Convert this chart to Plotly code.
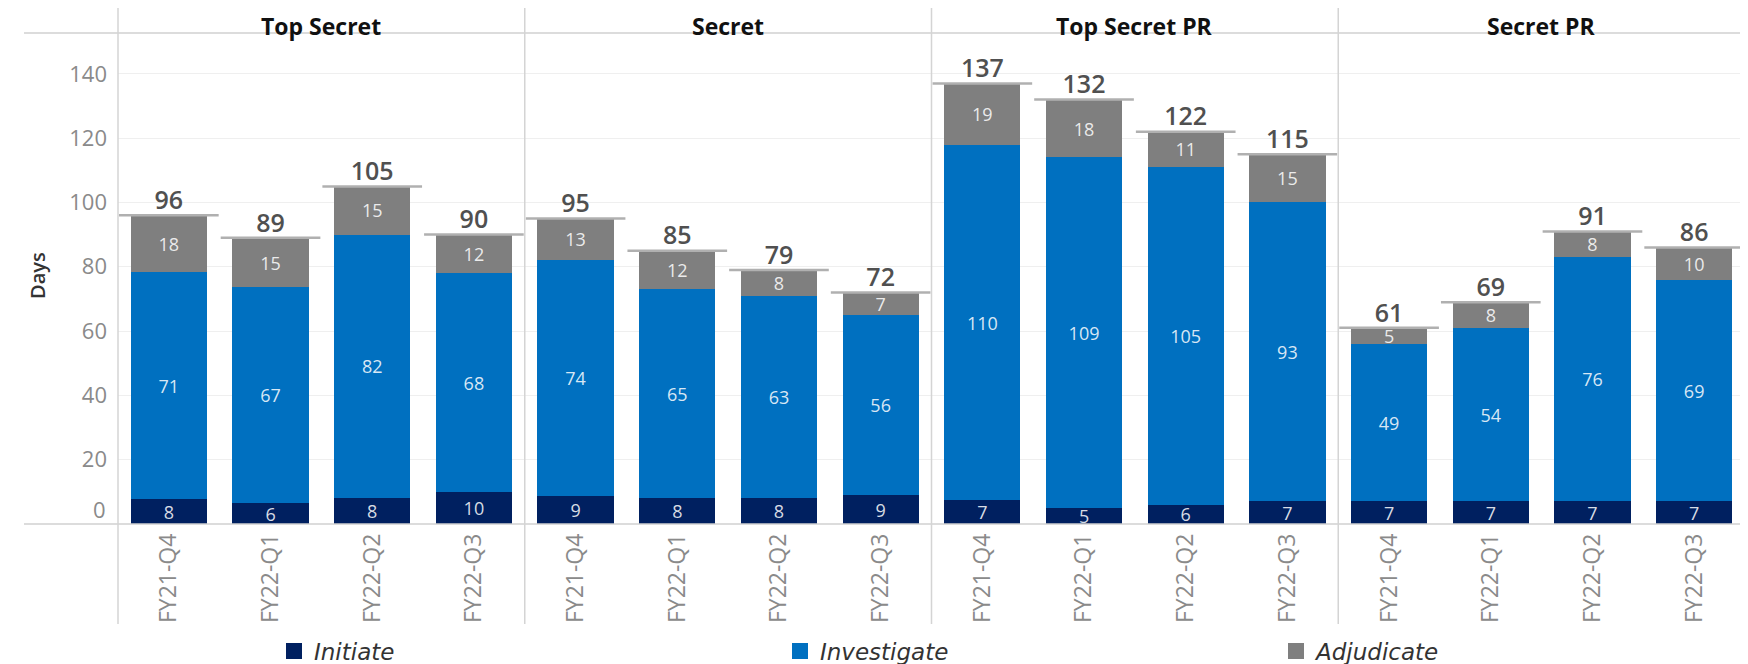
import plotly.graph_objects as go

panels = ['Top Secret', 'Secret', 'Top Secret PR', 'Secret PR']
quarters = ['FY21-Q4', 'FY22-Q1', 'FY22-Q2', 'FY22-Q3']
y_ticks = [0, 20, 40, 60, 80, 100, 120, 140]

initiate = [
    [7.7, 6.4, 8, 10],
    [8.6, 8, 8, 9],
    [7.4, 5, 6, 7],
    [7, 7, 7, 7],
]
investigate = [
    [70.6, 67.2, 82, 68],
    [73.6, 65, 63, 56],
    [110.4, 109, 105, 93],
    [49, 54, 76, 69],
]
adjudicate = [
    [17.6, 15.4, 15, 12],
    [12.6, 12, 8, 7],
    [19.4, 18, 11, 15],
    [5, 8, 8, 10],
]
totals = [
    [96, 89, 105, 90],
    [95, 85, 79, 72],
    [137, 132, 122, 115],
    [61, 69, 91, 86],
]

colors = {'Initiate': '#002060', 'Investigate': '#0070C0', 'Adjudicate': '#7F7F7F'}
FONT = 'Open Sans'

# page body has an 8px margin, so the figure is drawn 8px in from the window corner
OFF = 8
W, H = 1748 - OFF, 664 - OFF
L, T = 118 - OFF, 33 - OFF
B = H - (524 - OFF)
R = W - (1745 - OFF)
pw = W - L - R
ph = H - T - B
n = len(panels)


def px_x(v):
    """window x pixel -> paper x"""
    return (v - OFF - L) / pw


def px_y(v):
    """window y pixel -> paper y"""
    return (H - B - (v - OFF)) / ph


legend_px = [274, 780, 1276]
legend_names = ['legend', 'legend2', 'legend3']
series = [('Initiate', initiate), ('Investigate', investigate), ('Adjudicate', adjudicate)]

fig = go.Figure()
x = list(range(len(quarters)))

for p in range(n):
    xa = 'x' if p == 0 else f'x{p + 1}'
    for name, vals in series:
        fig.add_trace(go.Bar(
            x=x, y=vals[p], name=name, xaxis=xa, yaxis='y',
            marker=dict(color=colors[name], line=dict(width=0)),
            width=0.75,
            texttemplate='%{y:.0f}', textposition='inside', insidetextanchor='middle',
            textangle=0, constraintext='none',
            textfont=dict(family=FONT, size=18, color='rgba(255,255,255,0.85)'),
            showlegend=False, hoverinfo='skip',
        ))
    # total reference lines
    lx, ly = [], []
    for i, t in enumerate(totals[p]):
        lx += [i - 0.49, i + 0.49, None]
        ly += [t, t, None]
    fig.add_trace(go.Scatter(
        x=lx, y=ly, mode='lines', xaxis=xa, yaxis='y',
        line=dict(color='#b0b0b0', width=2.5), showlegend=False, hoverinfo='skip',
    ))
    fig.add_trace(go.Scatter(
        x=x, y=totals[p], mode='text', text=[str(t) for t in totals[p]],
        textposition='top center', xaxis=xa, yaxis='y',
        textfont=dict(family=FONT, size=25, color='#505050', weight=600),
        showlegend=False, hoverinfo='skip',
    ))

# legend entries with larger square swatches
for k, (name, _) in enumerate(series):
    fig.add_trace(go.Scatter(
        x=[None], y=[None], mode='markers', name=name,
        marker=dict(symbol='square', size=16, color=colors[name]),
        legend=legend_names[k], showlegend=True, hoverinfo='skip',
    ))

layout = dict(
    width=W, height=H,
    margin=dict(l=L, r=R, t=T, b=B, autoexpand=False),
    plot_bgcolor='white', paper_bgcolor='white',
    barmode='stack',
    font=dict(family=FONT, color='#888888'),
    yaxis=dict(
        range=[0, 152.7], tickvals=y_ticks,
        ticktext=['' if v == 0 else str(v) for v in y_ticks],
        showgrid=True, gridcolor='#efefef', gridwidth=1,
        zeroline=False, showline=False, ticks='',
        tickfont=dict(family=FONT, size=22, color='#8a8a8a'),
        ticklabelstandoff=10,
    ),
    showlegend=True,
)

for k, lg in enumerate(legend_names):
    layout[lg] = dict(
        orientation='h', x=px_x(legend_px[k]), xanchor='left',
        y=px_y(651), yanchor='middle',
        bgcolor='rgba(0,0,0,0)',
        font=dict(family='DejaVu Sans', size=23, color='#333333', style='italic'),
        itemclick=False, itemdoubleclick=False,
    )

for p in range(n):
    key = 'xaxis' if p == 0 else f'xaxis{p + 1}'
    layout[key] = dict(
        domain=[p / n, (p + 1) / n], anchor='y',
        range=[-0.5, len(quarters) - 0.5],
        tickvals=x, ticktext=quarters, tickangle=-90,
        tickfont=dict(family=FONT, size=23, color='#8a8a8a'),
        showgrid=False, zeroline=False, showline=False, ticks='',
        ticklabelstandoff=4,
    )

fig.update_layout(**layout)

# the zero tick label sits a little above the baseline, as in the original
fig.add_annotation(
    x=0, xref='paper', xanchor='right', xshift=-10, y=y_ticks[0], yref='y', yshift=15,
    text=str(y_ticks[0]), showarrow=False,
    font=dict(family=FONT, size=22, color='#8a8a8a'),
)

# header row, frame and dividers
shapes = [
    dict(type='line', xref='paper', yref='paper', x0=px_x(24), x1=1, y0=1, y1=1,
         line=dict(color='#d0d0d0', width=1.5)),
    dict(type='line', xref='paper', yref='paper', x0=px_x(24), x1=1, y0=0, y1=0,
         line=dict(color='#d0d0d0', width=1.5)),
]
for p in range(n + 1):
    shapes.append(dict(type='line', xref='paper', yref='paper', x0=p / n, x1=p / n,
                       y0=px_y(624), y1=px_y(6), line=dict(color='#d4d4d4', width=1.5)))
fig.update_layout(shapes=shapes)

for p, name in enumerate(panels):
    fig.add_annotation(
        x=(p + 0.5) / n, y=px_y(OFF), xref='paper', yref='paper',
        text=f'<b>{name}</b>', showarrow=False, xanchor='center', yanchor='top',
        font=dict(family=FONT, size=23, color='#111111'),
    )

fig.add_annotation(
    x=px_x(37), y=px_y(276), xref='paper', yref='paper', text='Days', textangle=-90,
    showarrow=False, xanchor='center', yanchor='middle',
    font=dict(family=FONT, size=20, color='#333333', weight=600),
)

fig.write_html('out.html')
